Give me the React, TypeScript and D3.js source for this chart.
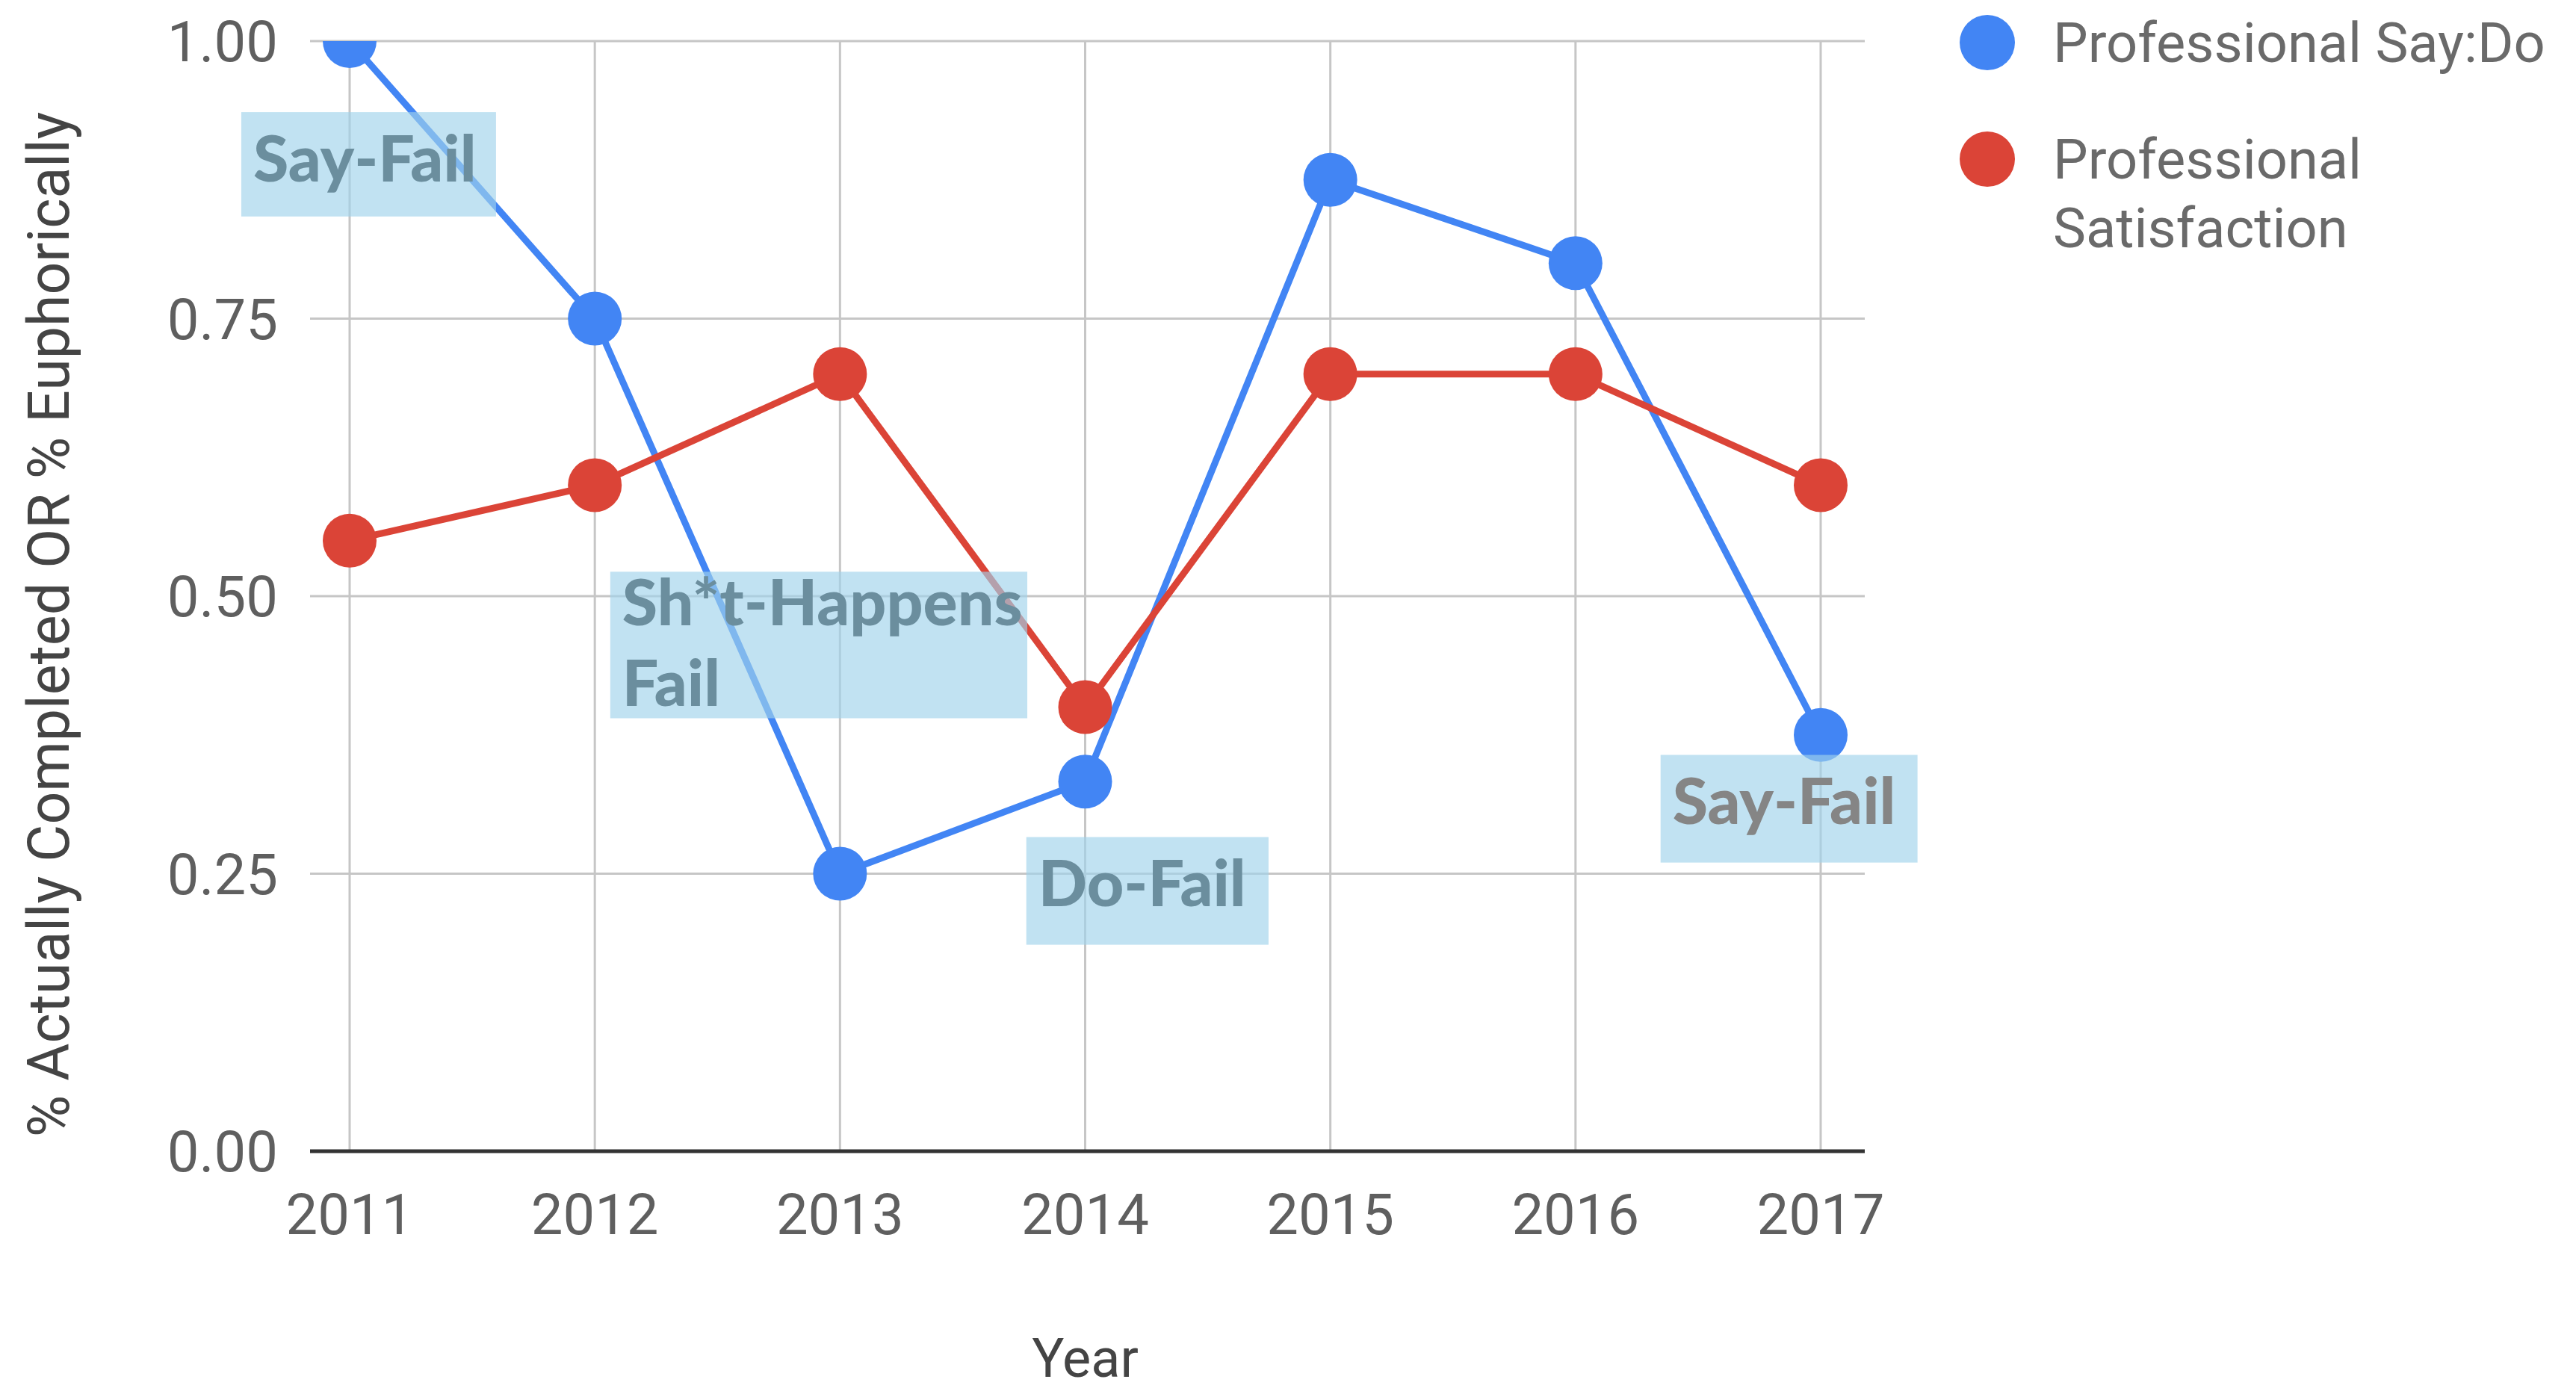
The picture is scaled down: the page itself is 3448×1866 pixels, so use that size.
import React, { useEffect, useRef } from "react";
import * as d3 from "d3";

const years = [2011, 2012, 2013, 2014, 2015, 2016, 2017];
const sayDo = [1.0, 0.75, 0.25, 0.333, 0.875, 0.8, 0.375];
const satisfaction = [0.55, 0.6, 0.7, 0.4, 0.7, 0.7, 0.6];
const yTicks = [0, 0.25, 0.5, 0.75, 1.0];
const seriesNames = ["Professional Say:Do", "Professional Satisfaction"];
const seriesColors = ["#4285F4", "#DB4437"];

// annotation boxes in data units: [x0, x1] years, [yTop, yBottom] values
const annotationLines = [["Say-Fail"], ["Sh*t-Happens", "Fail"], ["Do-Fail"], ["Say-Fail"]];
const annotationX = [[2010.558, 2011.597], [2012.063, 2013.764], [2013.76, 2014.748], [2016.347, 2017.395]];
const annotationY = [[0.936, 0.842], [0.522, 0.39], [0.283, 0.186], [0.357, 0.26]];
const annotationTextColor = ["#6B8E9E", "#6B8E9E", "#6B8E9E", "#858585"];

const W = 3448;
const H = 1866;

export default function App() {
  const ref = useRef<SVGSVGElement | null>(null);

  useEffect(() => {
    const svg = d3.select(ref.current);
    svg.selectAll("*").remove();

    const left = 415, right = 2496, top = 55, bottom = 1541;
    const step = (2437 - 468) / 6;
    const x = d3.scaleLinear()
      .domain([2011 - (468 - left) / step, 2017 + (right - 2437) / step])
      .range([left, right]);
    const y = d3.scaleLinear().domain([0, 1]).range([bottom, top]);

    svg.append("defs").append("clipPath").attr("id", "plotclip")
      .append("rect").attr("x", left).attr("y", top).attr("width", right - left).attr("height", bottom - top + 60);

    // horizontal gridlines
    svg.append("g").selectAll("line").data(yTicks.filter((t) => t > 0)).join("line")
      .attr("x1", left).attr("x2", right)
      .attr("y1", (d) => y(d)).attr("y2", (d) => y(d))
      .attr("stroke", "#c6c6c6").attr("stroke-width", 3);
    // vertical gridlines
    svg.append("g").selectAll("line").data(years).join("line")
      .attr("x1", (d) => x(d)).attr("x2", (d) => x(d))
      .attr("y1", top).attr("y2", bottom)
      .attr("stroke", "#c6c6c6").attr("stroke-width", 3);
    // baseline
    svg.append("line").attr("x1", left).attr("x2", right).attr("y1", y(0)).attr("y2", y(0))
      .attr("stroke", "#333333").attr("stroke-width", 5);

    // y tick labels
    svg.append("g").selectAll("text").data(yTicks).join("text")
      .attr("x", 372).attr("y", (d) => y(d) + 27)
      .attr("text-anchor", "end")
      .attr("font-family", "Roboto").attr("font-size", 76).attr("fill", "#5f5f5f")
      .text((d) => d3.format(".2f")(d));
    // x tick labels
    svg.append("g").selectAll("text").data(years).join("text")
      .attr("x", (d) => x(d)).attr("y", 1652)
      .attr("text-anchor", "middle")
      .attr("font-family", "Roboto").attr("font-size", 76).attr("fill", "#5f5f5f")
      .text((d) => String(d));

    // axis titles
    svg.append("text").attr("x", (x(2011) + x(2017)) / 2).attr("y", 1843)
      .attr("text-anchor", "middle").attr("font-family", "Roboto").attr("font-size", 72).attr("fill", "#444")
      .text("Year");
    svg.append("text").attr("transform", `translate(92, 836) rotate(-90)`)
      .attr("text-anchor", "middle").attr("font-family", "Roboto").attr("font-size", 77).attr("fill", "#444")
      .text("% Actually Completed OR % Euphorically");

    // series
    const plot = svg.append("g").attr("clip-path", "url(#plotclip)");
    const line = d3.line<number>().x((_, i) => x(years[i])).y((d) => y(d));
    [sayDo, satisfaction].forEach((vals, si) => {
      const g = plot.append("g");
      g.append("path").attr("d", line(vals)).attr("fill", "none")
        .attr("stroke", seriesColors[si]).attr("stroke-width", 9).attr("stroke-linejoin", "round");
      g.selectAll("circle").data(vals).join("circle")
        .attr("cx", (_, i) => x(years[i])).attr("cy", (d) => y(d)).attr("r", 36)
        .attr("fill", seriesColors[si]);
    });

    // legend
    const lg = svg.append("g");
    const legendLines = [["Professional Say:Do"], ["Professional", "Satisfaction"]];
    const legendY = [57, 213];
    seriesNames.forEach((_, i) => {
      lg.append("circle").attr("cx", 2660).attr("cy", legendY[i]).attr("r", 37).attr("fill", seriesColors[i]);
      legendLines[i].forEach((t, j) => {
        lg.append("text").attr("x", 2748).attr("y", legendY[i] + 26 + j * 92)
          .attr("font-family", "Roboto").attr("font-size", 74).attr("fill", "#6a6a6a").text(t);
      });
    });

    // annotations
    const ag = svg.append("g");
    annotationLines.forEach((lines, i) => {
      const x0 = x(annotationX[i][0]), x1 = x(annotationX[i][1]);
      const y0 = y(annotationY[i][0]), y1 = y(annotationY[i][1]);
      ag.append("rect").attr("x", x0).attr("y", y0).attr("width", x1 - x0).attr("height", y1 - y0)
        .attr("fill", "rgb(160,210,235)").attr("opacity", 0.65);
      const baseOff = lines.length > 1 ? 72 : 93;
      lines.forEach((t, j) => {
        ag.append("text").attr("x", x0 + 16).attr("y", y0 + baseOff + j * 108)
          .attr("font-family", "Lato").attr("font-weight", 900).attr("font-size", 86)
          .attr("fill", annotationTextColor[i]).text(t);
      });
    });
  }, []);

  return (
    <svg ref={ref} width={W} height={H} style={{ position: "absolute", left: 0, top: 0, background: "#fff" }} />
  );
}
